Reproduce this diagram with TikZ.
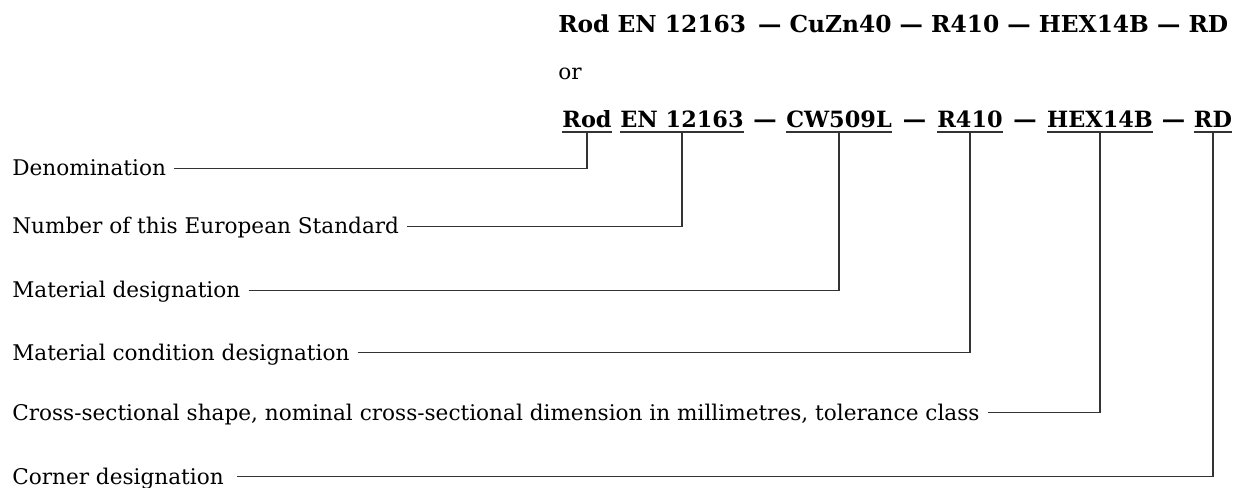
\documentclass[tikz,border=0pt]{standalone}
\usepackage{fontspec}
\setmainfont{DejaVu Serif}
\usetikzlibrary{calc}

\begin{document}
\begin{tikzpicture}[x=0.75pt, y=-0.75pt,
  code/.style={font=\bfseries\fontsize{17.5}{20}\selectfont, inner sep=0pt, anchor=base},
  part/.style={code, font=\bfseries\fontsize{16.8}{20}\selectfont, text depth=3pt},
  desc/.style={font=\fontsize{16.2}{18}\selectfont, inner sep=0pt, anchor=base west, text height=11.25pt, text depth=0pt},
  lead/.style={line width=1.35pt, black!80}]
\useasboundingbox (0,0) rectangle (1235,488);

% Designation examples
\node[code, anchor=base west] (ex) at (558,33) {Rod EN 12163 \,— CuZn40 — R410 — HEX14B — RD};
\node[desc] (or) at (558,80) {or};

\node[part] (rod) at (587,128) {Rod};
\node[part] (std) at (682,128) {EN 12163};
\node[part] (mat) at (839,128) {CW509L};
\node[part] (cond) at (970,128) {R410};
\node[part] (hex) at (1100,128) {HEX14B};
\node[part] (rd) at (1213,128) {RD};

\node[code] (d1) at ($(std.base east)!0.5!(mat.base west)$) {—};
\node[code] (d2) at ($(mat.base east)!0.5!(cond.base west)$) {—};
\node[code] (d3) at ($(cond.base east)!0.5!(hex.base west)$) {—};
\node[code] (d4) at ($(hex.base east)!0.5!(rd.base west)$) {—};

\foreach \p in {rod,std,mat,cond,hex,rd}
  \draw[lead] (\p.south west) -- (\p.south east);

% Labels
\node[desc] (lden) at (12,176) {Denomination};
\node[desc] (lstd) at (12,234) {Number of this European Standard};
\node[desc] (lmat) at (12,298) {Material designation};
\node[desc] (lcond) at (12,360) {Material condition designation};
\node[desc] (lhex) at (12,420) {Cross-sectional shape, nominal cross-sectional dimension in millimetres, tolerance class};
\node[desc] (lrd) at (12,484) {Corner designation};

% Leaders
\draw[lead] ([xshift=6pt]lden.east) -| (rod.south);
\draw[lead] ([xshift=6pt]lstd.east) -| (std.south);
\draw[lead] ([xshift=6pt]lmat.east) -| (mat.south);
\draw[lead] ([xshift=6pt]lcond.east) -| (cond.south);
\draw[lead] ([xshift=6pt]lhex.east) -| (hex.south);
\draw[lead] ([xshift=10pt]lrd.east) -| (rd.south);
\end{tikzpicture}
\end{document}
